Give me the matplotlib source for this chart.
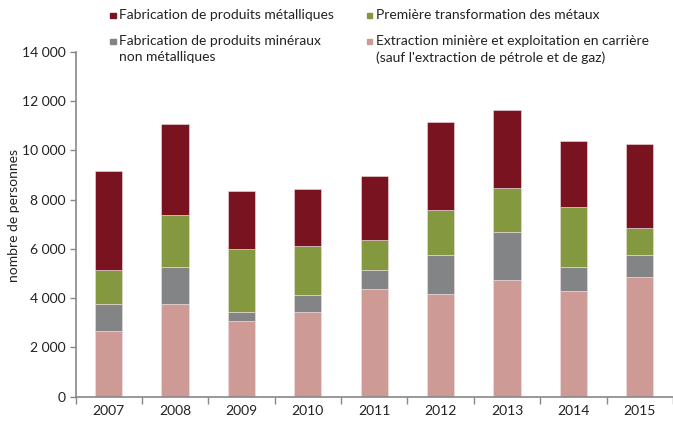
import matplotlib.pyplot as plt
from matplotlib.patches import Rectangle
import numpy as np

annees = ['2007', '2008', '2009', '2010', '2011', '2012', '2013', '2014', '2015']
extraction = [2670, 3760, 3060, 3435, 4370, 4165, 4760, 4275, 4870]
mineraux = [1090, 1490, 360, 715, 770, 1585, 1935, 975, 880]
premiere = [1380, 2110, 2560, 1990, 1215, 1825, 1770, 2445, 1120]
metalliques = [4030, 3700, 2365, 2315, 2595, 3580, 3195, 2690, 3410]

plt.rcParams['font.family'] = ['Lato', 'DejaVu Sans']

W, H = 673, 423
fig = plt.figure(figsize=(6.73, 4.23), dpi=100)
ax = fig.add_axes([75.5/W, 1-396.7/H, 1-75.5/W, (396.7-52)/H])

x = np.arange(len(annees))
w = 0.41
bas = np.zeros(len(annees))
series = [
    (extraction, '#CE9A96', "Extraction minière et exploitation en carrière\n(sauf l'extraction de pétrole et de gaz)"),
    (mineraux, '#838486', 'Fabrication de produits minéraux\nnon métalliques'),
    (premiere, '#84993F', 'Première transformation des métaux'),
    (metalliques, '#7A1320', 'Fabrication de produits métalliques'),
]
for vals, col, lab in series:
    ax.bar(x, vals, w, bottom=bas, color=col, edgecolor='#f0e0e0', linewidth=0.4, label=lab)
    bas += np.array(vals)

ax.set_xlim(-0.5, 8.5)
ax.set_ylim(0, 14000)
ax.set_yticks(range(0, 14001, 2000))
ax.set_yticklabels(['0'] + ['{:,}'.format(v).replace(',', ' ') for v in range(2000, 14001, 2000)])
ax.set_xticks(x)
ax.set_xticklabels(annees)
ax.set_xticks(np.arange(-0.5, 8.6, 1), minor=True)
ax.tick_params(axis='x', which='major', length=0, pad=6)
ax.tick_params(axis='x', which='minor', length=5, color='#888888', width=1)
ax.tick_params(axis='y', length=4, color='#888888', width=1, pad=3)
ax.tick_params(labelsize=10, labelcolor='#222222')
for s in ['top', 'right']:
    ax.spines[s].set_visible(False)
for s in ['left', 'bottom']:
    ax.spines[s].set_color('#888888')
    ax.spines[s].set_linewidth(1.2)

fig.text(14/W, 1-215/H, 'nombre de personnes', rotation=90, ha='center', va='center', fontsize=10, color='#222222')

# legende faite a la main (carre aligne sur la 1re ligne)
legende = [(series[3], 110, 16), (series[1], 110, 42), (series[2], 367, 16), (series[0], 367, 42)]
for (vals, col, lab), lx, ly in legende:
    fig.patches.append(Rectangle((lx/W, 1-(ly+2.5)/H), 5.5/W, 5.5/H, color=col, transform=fig.transFigure))
    fig.text((lx+9)/W, 1-(ly-7)/H, lab, ha='left', va='top', fontsize=10,
             color='#222222', linespacing=1.38)

fig.savefig('out.png', dpi=100)
